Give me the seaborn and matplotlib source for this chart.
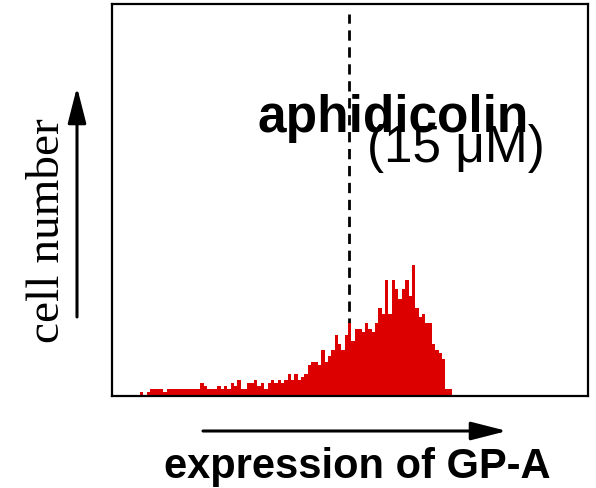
import numpy as np
import pandas as pd
import matplotlib
matplotlib.use("Agg")
import matplotlib.pyplot as plt
import seaborn as sns

# ---- data ----
counts = [1, 0, 1, 2, 2, 2, 2, 1,
          2, 2, 2, 2, 2, 2, 2, 2, 2, 2,
          4, 3, 2, 2, 2, 3, 2, 3, 2, 4, 3, 5, 2, 2, 4, 4, 5, 3, 4, 2, 4, 5, 4, 5,
          4, 5, 7, 5, 7, 5, 6, 7, 10, 11, 11, 10, 15, 11, 13, 15, 20, 17, 15, 20,
          24, 18, 22, 22, 21, 24, 22, 21, 24, 29, 27, 38, 27, 38, 35, 32, 35, 38,
          33, 43, 29, 26, 27, 24, 24, 17, 15, 14, 12, 2, 2]
bin_edges = list(range(len(counts) + 1))
bin_centers = [e + 0.5 for e in bin_edges[:-1]]
threshold = 62.4
title_main = "aphidicolin"
title_sub = "(15 \u03bcM)"
xlabel = "expression of GP-A"
ylabel = "cell number"

df = pd.DataFrame({"expression": bin_centers, "cells": counts})

W, H = 596, 489
sns.set_style("white")
plt.rcParams["text.color"] = "black"
fig = plt.figure(figsize=(W / 100, H / 100), dpi=100)
ax = fig.add_axes([112 / W, 1 - 397 / H, (588 - 112) / W, (397 - 5) / H])

red = "#dc0000"
sns.histplot(data=df, x="expression", weights="cells", bins=bin_edges,
             element="step", fill=True, color=red, alpha=1, linewidth=0, ax=ax,
             zorder=3)
ax.axvline(threshold, color="black", lw=2, ls=(0, (3.7, 2.4)), ymin=0,
           ymax=(392 - 10) / 392, zorder=2)

ax.set_xlim(-8.34, 133.45)
ax.set_ylim(-0.2, 129.3)
ax.set_xticks([])
ax.set_yticks([])
ax.set_xlabel("")
ax.set_ylabel("")
for s in ax.spines.values():
    s.set_color("black")
    s.set_linewidth(1.6)
    s.set_visible(True)
    s.set_zorder(5)

def fx(x):
    return x / W

def fy(y):
    return 1 - y / H

fig.text(fx(393), fy(132), title_main, ha="center", va="baseline",
         fontsize=37, fontweight="bold", family="Liberation Sans", color="black")
fig.text(fx(456), fy(162), title_sub, ha="center", va="baseline",
         fontsize=37, family="Liberation Sans", color="black")

fig.text(fx(357), fy(478), xlabel, ha="center", va="baseline",
         fontsize=30, fontweight="bold", family="Liberation Sans", color="black")
fig.text(fx(48), fy(231), ylabel, ha="center", va="center", rotation=90,
         fontsize=34, family="Liberation Serif", color="black")

# arrows
style = "-|>,head_length=11,head_width=2.8"
fig.add_artist(matplotlib.patches.FancyArrowPatch(
    (fx(203), fy(432)), (fx(507), fy(432)), transform=fig.transFigure,
    arrowstyle=style, color="black", lw=2.2,
    mutation_scale=2, shrinkA=0, shrinkB=0))
fig.add_artist(matplotlib.patches.FancyArrowPatch(
    (fx(77), fy(318)), (fx(77), fy(88)), transform=fig.transFigure,
    arrowstyle=style, color="black", lw=2.2,
    mutation_scale=2, shrinkA=0, shrinkB=0))

fig.savefig("out.png", dpi=100)
